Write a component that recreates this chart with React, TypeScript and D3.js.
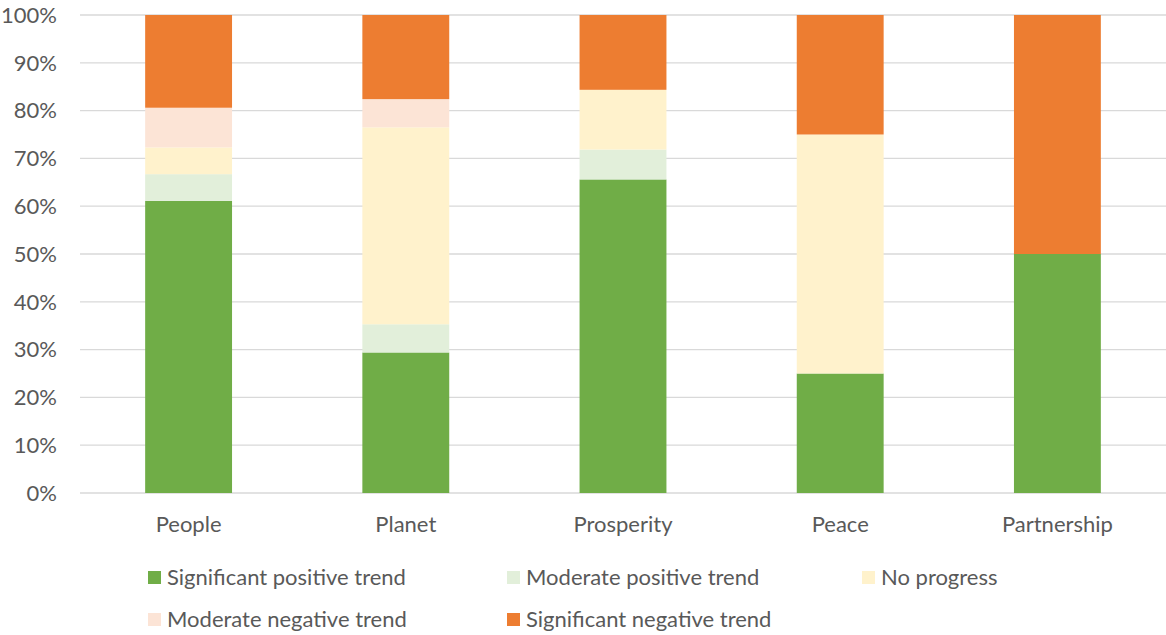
import React from "react";
import * as d3 from "d3";

const categories = ["People", "Planet", "Prosperity", "Peace", "Partnership"];
const seriesNames = [
  "Significant positive trend",
  "Moderate positive trend",
  "No progress",
  "Moderate negative trend",
  "Significant negative trend",
];
const colors = ["#70AD47", "#E2EFDA", "#FFF2CC", "#FCE4D6", "#ED7D31"];
// percentages per series, per category
const sigPos = [61.1, 29.4, 65.6, 25, 50];
const modPos = [5.6, 5.9, 6.25, 0, 0];
const noProg = [5.6, 41.2, 12.5, 50, 0];
const modNeg = [8.3, 5.9, 0, 0, 0];
const sigNeg = [19.4, 17.6, 15.65, 25, 50];
const yTicks = [0, 10, 20, 30, 40, 50, 60, 70, 80, 90, 100];

const W = 1166, H = 635;
const left = 80, right = 1166, top = 15, bottom = 493;
const font = "Lato, 'Open Sans', sans-serif";
const fs = 22;
const textColor = "#595959";

export default function App() {
  const series = [sigPos, modPos, noProg, modNeg, sigNeg];
  const rows = categories.map((c, i) => {
    const r: any = { cat: c };
    seriesNames.forEach((s, j) => (r[s] = series[j][i]));
    return r;
  });
  const stacked = d3.stack().keys(seriesNames)(rows);
  const x = d3.scaleBand().domain(categories).range([left, right]).paddingInner(0.6).paddingOuter(0.3);
  const y = d3.scaleLinear().domain([0, 100]).range([bottom, top]);

  const legendPos = [
    [148, 577], [507, 577], [862, 577], [148, 619], [507, 619],
  ];

  return (
    <svg width={W} height={H} style={{ position: "absolute", left: 0, top: 0 }}>
      {yTicks.map((t) => (
        <g key={t}>
          <line x1={left} x2={right} y1={y(t)} y2={y(t)} stroke="#D9D9D9" strokeWidth={1.3} />
          <text x={57} y={y(t)} dy="0.35em" textAnchor="end" fontFamily={font} fontSize={fs} fill={textColor}>
            {t}%
          </text>
        </g>
      ))}
      {stacked.map((s, j) => (
        <g key={j} fill={colors[j]}>
          {s.map((d, i) => (
            <rect
              key={i}
              x={x(categories[i])}
              width={x.bandwidth()}
              y={y(d[1])}
              height={Math.max(0, y(d[0]) - y(d[1]))}
            />
          ))}
        </g>
      ))}
      {categories.map((c) => (
        <text key={c} x={(x(c) as number) + x.bandwidth() / 2} y={524} dy="0.35em" textAnchor="middle" fontFamily={font} fontSize={fs} fill={textColor}>
          {c}
        </text>
      ))}
      {seriesNames.map((s, j) => (
        <g key={s}>
          <rect x={legendPos[j][0]} y={legendPos[j][1] - 6} width={13} height={13} fill={colors[j]} />
          <text x={legendPos[j][0] + 19} y={legendPos[j][1]} dy="0.35em" fontFamily={font} fontSize={fs} fill={textColor}>
            {s}
          </text>
        </g>
      ))}
    </svg>
  );
}
